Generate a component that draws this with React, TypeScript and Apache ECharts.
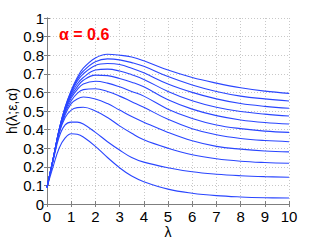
import React, { useEffect, useRef } from "react";
import * as echarts from "echarts";

const lambdas = [0, 0.25, 0.5, 0.75, 1, 1.25, 1.5, 2, 2.5, 3, 3.5, 4, 5, 6, 7, 8, 9, 10];

const curve1 = [0.09, 0.24, 0.40, 0.52, 0.61, 0.68, 0.73, 0.785, 0.805, 0.80, 0.79, 0.77, 0.72, 0.68, 0.65, 0.625, 0.607, 0.595];
const curve2 = [0.09, 0.24, 0.40, 0.52, 0.605, 0.67, 0.715, 0.765, 0.78, 0.775, 0.76, 0.74, 0.685, 0.64, 0.605, 0.58, 0.565, 0.554];
const curve3 = [0.09, 0.24, 0.40, 0.515, 0.60, 0.66, 0.70, 0.745, 0.755, 0.75, 0.73, 0.705, 0.645, 0.60, 0.565, 0.54, 0.525, 0.515];
const curve4 = [0.09, 0.24, 0.395, 0.51, 0.59, 0.645, 0.68, 0.72, 0.725, 0.715, 0.695, 0.67, 0.605, 0.555, 0.52, 0.497, 0.483, 0.473];
const curve5 = [0.09, 0.24, 0.395, 0.505, 0.58, 0.63, 0.665, 0.693, 0.69, 0.675, 0.655, 0.63, 0.56, 0.51, 0.475, 0.452, 0.438, 0.43];
const curve6 = [0.09, 0.24, 0.39, 0.50, 0.57, 0.615, 0.645, 0.66, 0.65, 0.63, 0.605, 0.58, 0.51, 0.46, 0.425, 0.405, 0.392, 0.385];
const curve7 = [0.09, 0.24, 0.39, 0.49, 0.555, 0.595, 0.615, 0.62, 0.605, 0.58, 0.55, 0.52, 0.455, 0.405, 0.372, 0.352, 0.341, 0.335];
const curve8 = [0.09, 0.235, 0.385, 0.48, 0.54, 0.565, 0.575, 0.565, 0.54, 0.505, 0.47, 0.44, 0.385, 0.34, 0.31, 0.295, 0.285, 0.28];
const curve9 = [0.09, 0.235, 0.38, 0.465, 0.505, 0.518, 0.52, 0.50, 0.465, 0.42, 0.38, 0.345, 0.30, 0.265, 0.243, 0.23, 0.223, 0.219];
const curve10 = [0.09, 0.23, 0.36, 0.425, 0.44, 0.44, 0.43, 0.385, 0.335, 0.29, 0.25, 0.225, 0.195, 0.173, 0.16, 0.152, 0.147, 0.144];
const curve11 = [0.09, 0.2, 0.3, 0.355, 0.378, 0.375, 0.36, 0.31, 0.25, 0.195, 0.15, 0.12, 0.08, 0.058, 0.045, 0.038, 0.034, 0.032];

const curves = [curve1, curve2, curve3, curve4, curve5, curve6, curve7, curve8, curve9, curve10, curve11];

const xTicks = [0, 1, 2, 3, 4, 5, 6, 7, 8, 9, 10];
const yTicks = [0, 0.1, 0.2, 0.3, 0.4, 0.5, 0.6, 0.7, 0.8, 0.9, 1];

const titleText = "α = 0.6";
const xName = "λ";
const yName = "h(λ;ε,α)";

export default function App() {
  const ref = useRef<HTMLDivElement>(null);
  useEffect(() => {
    if (!ref.current) return;
    const chart = echarts.init(ref.current, undefined, { renderer: "svg" });
    const font = "Liberation Sans, Arial, Helvetica, sans-serif";
    const axisLine = { show: true, lineStyle: { color: "#7f7f7f", width: 1 } };
    const splitLine = { show: true, lineStyle: { color: "#c8c8c8", type: [1, 2] as any, width: 1 } };
    const common = {
      axisLine,
      axisTick: { show: true, inside: true, length: 3, lineStyle: { color: "#7f7f7f" } },
    };
    chart.setOption({
      animation: false,
      grid: { left: 47, right: 30, top: 18, bottom: 36, containLabel: false, outerBoundsMode: "none" },
      title: {
        text: titleText,
        left: 54,
        top: 21,
        textStyle: { color: "#ff0000", fontSize: 16, fontWeight: "bold", fontFamily: font },
      },
      xAxis: [
        {
          type: "value",
          min: xTicks[0],
          max: xTicks[xTicks.length - 1],
          interval: 1,
          position: "bottom",
          ...common,
          splitLine,
          axisLabel: { color: "#000", fontSize: 15, fontFamily: font, margin: 5 },
          name: xName,
          nameLocation: "middle",
          nameGap: 21,
          nameMoveOverlap: false,
          nameTextStyle: { color: "#000", fontSize: 14, fontFamily: font, lineHeight: 14 },
        },
        {
          type: "value",
          min: xTicks[0],
          max: xTicks[xTicks.length - 1],
          interval: 1,
          position: "top",
          ...common,
          splitLine: { show: false },
          axisLabel: { show: false },
        },
      ],
      yAxis: [
        {
          type: "value",
          min: yTicks[0],
          max: yTicks[yTicks.length - 1],
          interval: 0.1,
          position: "left",
          ...common,
          splitLine,
          axisLabel: {
            color: "#000",
            fontSize: 15,
            fontFamily: font,
            margin: 3,
            formatter: (v: number) => String(Math.round(v * 10) / 10),
          },
          name: yName,
          nameLocation: "middle",
          nameGap: 28,
          nameMoveOverlap: false,
          nameRotate: 90,
          nameTextStyle: { color: "#000", fontSize: 14, fontFamily: font, lineHeight: 14 },
        },
        {
          type: "value",
          min: yTicks[0],
          max: yTicks[yTicks.length - 1],
          interval: 0.1,
          position: "right",
          ...common,
          splitLine: { show: false },
          axisLabel: { show: false },
        },
      ],
      series: curves.map((c, i) => ({
        type: "line",
        name: "c" + i,
        data: lambdas.map((x, j) => [x, c[j]]),
        smooth: 0.4,
        showSymbol: false,
        lineStyle: { color: "#2a46ff", width: 1.1 },
        xAxisIndex: 0,
        yAxisIndex: 0,
      })),
    });
    return () => chart.dispose();
  }, []);
  return <div ref={ref} style={{ width: 319, height: 240, position: "absolute", left: 0, top: 0 }} />;
}
